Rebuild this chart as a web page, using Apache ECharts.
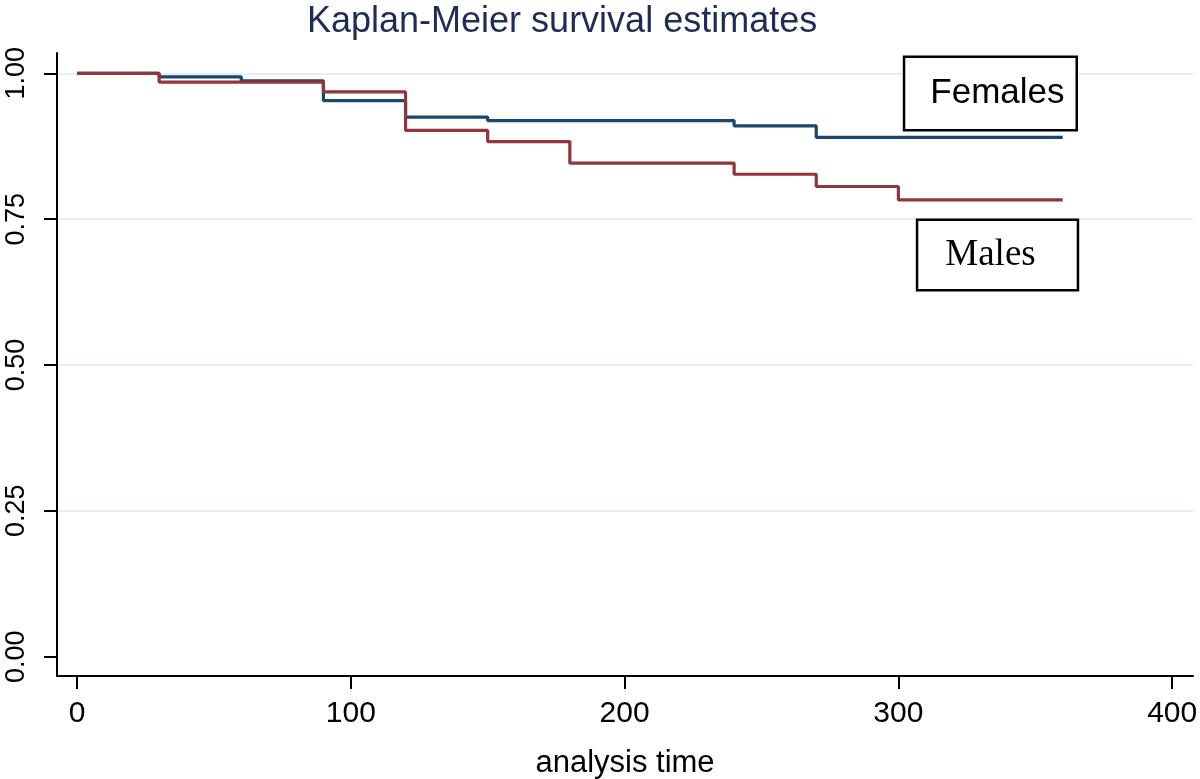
<!DOCTYPE html>
<html>
<head>
<meta charset="utf-8">
<title>Kaplan-Meier survival estimates</title>
<script src="https://cdn.jsdelivr.net/npm/echarts@6/dist/echarts.min.js"></script>
<style>
  html, body { margin: 0; padding: 0; background: #fff; }
  #chart { width: 1200px; height: 779px; }
</style>
</head>
<body>
<div id="chart"></div>
<script>
// step points (analysis time, survival)
const timeFemales = [0, 30, 60, 90, 120, 150, 240, 270, 360]
const survFemales = [1.0, 0.994, 0.987, 0.953, 0.925, 0.919, 0.910, 0.890, 0.890]
const timeMales = [0, 30, 90, 120, 150, 180, 240, 270, 300, 360]
const survMales = [1.0, 0.985, 0.968, 0.902, 0.883, 0.846, 0.827, 0.806, 0.783, 0.783]

const xTicks = [0, 100, 200, 300, 400]
const yTicks = [0, 0.25, 0.5, 0.75, 1]

const navy = '#1a476f'
const maroon = '#90353b'
const sans = '"Liberation Sans", Arial, Helvetica, sans-serif'

function zip(xs, ys) {
  return xs.map((x, i) => [x, ys[i]])
}

const chart = echarts.init(document.getElementById('chart'))

chart.setOption({
  animation: false,
  backgroundColor: '#fff',
  title: {
    text: 'Kaplan-Meier survival estimates',
    left: 307,
    top: 4,
    padding: 0,
    textStyle: { fontFamily: sans, fontSize: 36, fontWeight: 'normal', color: '#1f2c56' }
  },
  grid: { left: 57, right: 7, top: 53, bottom: 103, outerBoundsMode: 'none', containLabel: false },
  xAxis: {
    type: 'value',
    min: -7.3,
    max: 407.6,
    name: 'analysis time',
    nameLocation: 'middle',
    nameGap: 72,
    nameTextStyle: { fontFamily: sans, fontSize: 31, color: '#000' },
    axisLine: { onZero: false, lineStyle: { color: '#000', width: 2 } },
    axisTick: { customValues: xTicks, length: 13, lineStyle: { color: '#000', width: 2 } },
    axisLabel: { customValues: xTicks, margin: 23, fontFamily: sans, fontSize: 30, color: '#000' },
    splitLine: { show: false }
  },
  yAxis: {
    type: 'value',
    min: -0.0331,
    max: 1.0348,
    axisLine: { show: true, onZero: false, lineStyle: { color: '#000', width: 2 } },
    axisTick: { show: true, customValues: yTicks, length: 13, lineStyle: { color: '#000', width: 2 } },
    axisLabel: {
      customValues: yTicks,
      rotate: 90,
      margin: 27,
      fontFamily: sans,
      fontSize: 27,
      color: '#000',
      formatter: v => v.toFixed(2)
    },
    splitLine: { show: true, showMinLine: false, lineStyle: { color: '#e6eef1', width: 2 } }
  },
  series: [
    {
      name: 'Females',
      type: 'line',
      step: 'end',
      showSymbol: false,
      data: zip(timeFemales, survFemales),
      lineStyle: { color: navy, width: 3.2 },
      itemStyle: { color: navy },
      z: 3,
      markPoint: {
        symbol: 'rect',
        symbolSize: 0,
        silent: true,
        data: [{
          coord: [333.6, 0.9654],
          label: {
            show: true,
            position: 'inside',
            formatter: 'Females',
            fontFamily: sans,
            fontSize: 35,
            lineHeight: 35,
            color: '#000',
            backgroundColor: '#fff',
            borderColor: '#000',
            borderWidth: 2.5,
            padding: [18, 11, 18, 25]
          }
        }]
      }
    },
    {
      name: 'Males',
      type: 'line',
      step: 'end',
      showSymbol: false,
      data: zip(timeMales, survMales),
      lineStyle: { color: maroon, width: 3.2 },
      itemStyle: { color: maroon },
      z: 4,
      markPoint: {
        symbol: 'rect',
        symbolSize: 0,
        silent: true,
        data: [{
          coord: [336.2, 0.6885],
          label: {
            show: true,
            position: 'inside',
            formatter: 'Males',
            fontFamily: '"Liberation Serif", "Times New Roman", serif',
            fontSize: 37,
            lineHeight: 38,
            color: '#000',
            backgroundColor: '#fff',
            borderColor: '#000',
            borderWidth: 2.5,
            padding: [15, 41, 15, 27]
          }
        }]
      }
    }
  ]
})

window.addEventListener('resize', () => chart.resize())
</script>
</body>
</html>
